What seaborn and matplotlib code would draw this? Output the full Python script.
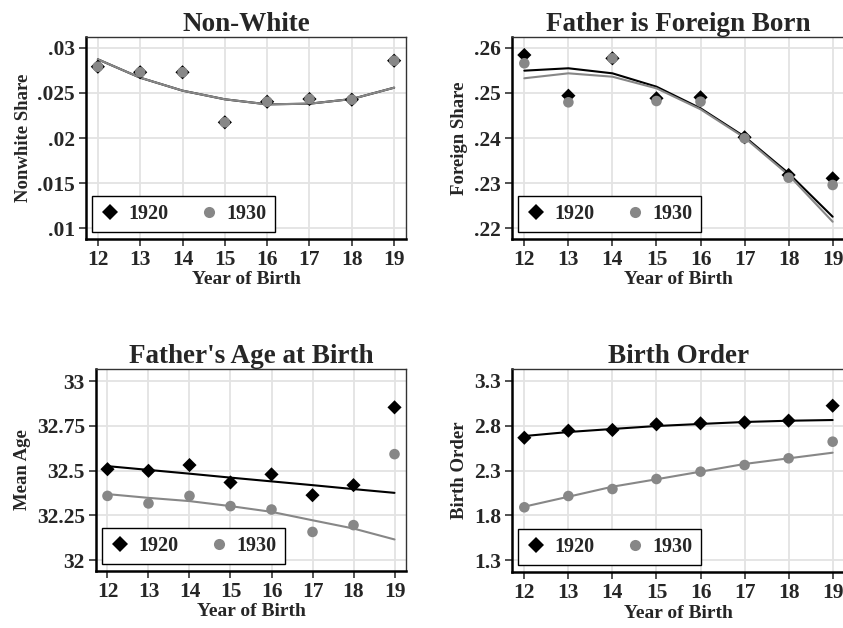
import numpy as np
import pandas as pd
import matplotlib
matplotlib.use("Agg")
import matplotlib.pyplot as plt
from matplotlib.lines import Line2D
import seaborn as sns

sns.set_theme(style="white")
plt.rcParams['font.family'] = ['Liberation Serif', 'DejaVu Serif']
plt.rcParams['font.weight'] = 'bold'

years = [12, 13, 14, 15, 16, 17, 18, 19]

# Non-White
nw_1920 = [0.02792, 0.0273, 0.0273, 0.02174, 0.02403, 0.02433, 0.02426, 0.02859]
nw_1930 = [0.02792, 0.0273, 0.0273, 0.02174, 0.02403, 0.02433, 0.02426, 0.02859]
nw_fit_1920 = [0.02874, 0.0267, 0.02526, 0.0243, 0.02374, 0.02381, 0.02433, 0.02559]
nw_fit_1930 = [0.02874, 0.0267, 0.02526, 0.0243, 0.02374, 0.02381, 0.02433, 0.02559]

# Father is Foreign Born
fb_1920 = [0.25844, 0.2494, 0.2577, 0.24882, 0.24904, 0.24016, 0.23178, 0.23104]
fb_1930 = [0.2566, 0.24793, 0.2577, 0.24822, 0.24807, 0.23993, 0.23118, 0.22956]
fb_fit_1920 = [0.25496, 0.25549, 0.25437, 0.2514, 0.2466, 0.2403, 0.23215, 0.22251]
fb_fit_1930 = [0.25327, 0.25437, 0.25362, 0.25104, 0.24638, 0.24007, 0.23178, 0.2214]

# Father's Age at Birth
fa_1920 = [32.508, 32.499, 32.531, 32.434, 32.479, 32.363, 32.419, 32.853]
fa_1930 = [32.359, 32.317, 32.359, 32.302, 32.283, 32.158, 32.196, 32.592]
fa_fit_1920 = [32.525, 32.504, 32.483, 32.461, 32.44, 32.419, 32.397, 32.376]
fa_fit_1930 = [32.369, 32.348, 32.33, 32.302, 32.27, 32.223, 32.177, 32.116]

# Birth Order
bo_1920 = [2.666, 2.745, 2.753, 2.816, 2.827, 2.838, 2.857, 3.024]
bo_1930 = [1.889, 2.015, 2.093, 2.205, 2.287, 2.361, 2.436, 2.622]
bo_fit_1920 = [2.685, 2.730, 2.764, 2.797, 2.82, 2.842, 2.856, 2.864]
bo_fit_1930 = [1.896, 2.007, 2.119, 2.202, 2.287, 2.373, 2.436, 2.499]

titles = ["Non-White", "Father is Foreign Born", "Father's Age at Birth", "Birth Order"]
ylabels = ["Nonwhite Share", "Foreign Share", "Mean Age", "Birth Order"]
yticks = [
    [0.01, 0.015, 0.02, 0.025, 0.03],
    [0.22, 0.23, 0.24, 0.25, 0.26],
    [32, 32.25, 32.5, 32.75, 33],
    [1.3, 1.8, 2.3, 2.8, 3.3],
]
yticklabels = [
    [".01", ".015", ".02", ".025", ".03"],
    [".22", ".23", ".24", ".25", ".26"],
    ["32", "32.25", "32.5", "32.75", "33"],
    ["1.3", "1.8", "2.3", "2.8", "3.3"],
]
ylims = [(0.00878, 0.03122), (0.21756, 0.26244), (31.94, 33.067), (1.166, 3.434)]
series = [
    (nw_1920, nw_1930, nw_fit_1920, nw_fit_1930),
    (fb_1920, fb_1930, fb_fit_1920, fb_fit_1930),
    (fa_1920, fa_1930, fa_fit_1920, fa_fit_1930),
    (bo_1920, bo_1930, bo_fit_1920, bo_fit_1930),
]

W, H = 843, 628
fig = plt.figure(figsize=(W / 100, H / 100), dpi=100)
boxes = [(86, 406, 37, 239), (512, 845, 37, 239), (96, 406, 369, 571), (512, 845, 369, 572)]

GRAY = "#878787"
for i in range(4):
    l, r, t, b = boxes[i]
    aw, ah = r - l, b - t
    ax = fig.add_axes([l / W, (H - b) / H, aw / W, ah / H])
    s20, s30, f20, f30 = series[i]
    df = pd.DataFrame({
        "year": years * 2,
        "value": list(s20) + list(s30),
        "fit": list(f20) + list(f30),
        "census": ["1920"] * 8 + ["1930"] * 8,
    })
    d20 = df[df.census == "1920"]
    d30 = df[df.census == "1930"]
    sns.lineplot(data=d20, x="year", y="fit", color="black", lw=1.5, ax=ax, zorder=2)
    sns.lineplot(data=d30, x="year", y="fit", color=GRAY, lw=1.5, ax=ax, zorder=2)
    sns.scatterplot(data=d20, x="year", y="value", marker="D", s=52, color="black",
                    edgecolor="none", linewidth=0, ax=ax, zorder=3)
    sns.scatterplot(data=d30, x="year", y="value", marker="o", s=58, color=GRAY,
                    edgecolor="none", linewidth=0, ax=ax, zorder=4)
    ax.set_xlim(11.72, 19.28)
    ax.set_ylim(*ylims[i])
    ax.set_xticks(years)
    ax.set_xticklabels([str(y) for y in years])
    ax.set_yticks(yticks[i])
    ax.set_yticklabels(yticklabels[i])
    ax.grid(True, color="#e3e3e3", lw=1.3, zorder=0)
    ax.set_axisbelow(True)
    ax.tick_params(axis="both", direction="out", length=5, width=1.2, color="#333333",
                   labelsize=15.5, pad=3, left=True, bottom=True)
    for lab in ax.get_xticklabels() + ax.get_yticklabels():
        lab.set_fontweight("bold")
    ax.set_title(titles[i], fontsize=19.5, fontweight="bold", pad=4)
    ax.set_xlabel("Year of Birth", fontsize=14, fontweight="bold", labelpad=1)
    ax.set_ylabel(ylabels[i], fontsize=13.5, fontweight="bold", labelpad=4)
    for side in ["left", "bottom"]:
        ax.spines[side].set_color("black")
        ax.spines[side].set_linewidth(1.8)
    for side in ["top", "right"]:
        ax.spines[side].set_color("#333333")
        ax.spines[side].set_linewidth(1.0)
    handles = [
        Line2D([], [], marker="D", color="black", ls="none", markersize=8, markeredgewidth=0),
        Line2D([], [], marker="o", color=GRAY, ls="none", markersize=8, markeredgewidth=0),
    ]
    leg = ax.legend(handles, ["1920", "1930"], loc="lower left", ncol=2, frameon=True,
                    fancybox=False, edgecolor="black", framealpha=1,
                    prop={"size": 14.5, "weight": "bold"}, handletextpad=0.4,
                    columnspacing=1.5, borderpad=0.4, handlelength=1.0,
                    borderaxespad=0, bbox_to_anchor=(6 / aw, 7 / ah))
    leg.get_frame().set_linewidth(1.0)
    leg.set_zorder(5)

fig.savefig("out.png", dpi=100)
